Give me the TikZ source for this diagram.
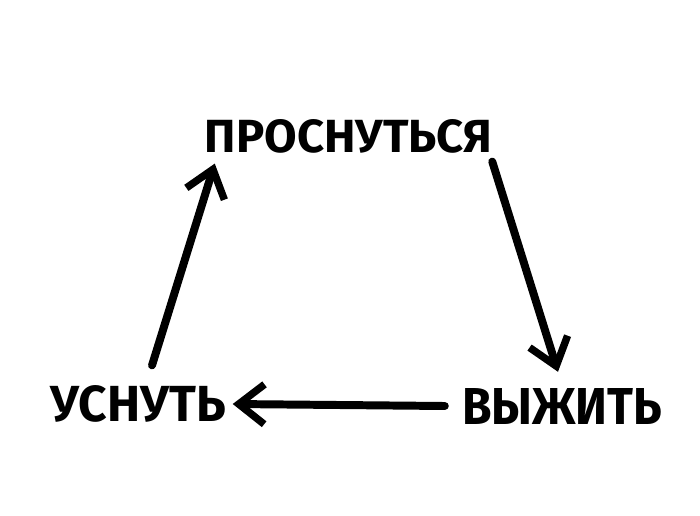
\documentclass[tikz,border=0pt]{standalone}
\usepackage{fontspec}
\setmainfont{Fira Sans}
\usetikzlibrary{arrows.meta}
\tikzset{
	word/.style={inner sep=0pt, font=\bfseries},
	arr/.style={line width=2.8mm, line cap=round, line join=round, -{Straight Barb[length=9mm, width=14mm, line width=2.6mm]}}
}

\begin{document}
\begin{tikzpicture}[x=1pt, y=1pt]
		%%%%% START %%%%%
		
		\useasboundingbox[fill=white] (0, 0) rectangle (700, 515);
		
		\node[word] (wake) at (348.5, 378.5) {\resizebox{287pt}{33pt}{ПРОСНУТЬСЯ}};
		\node[word] (survive) at (562, 109) {\resizebox{200pt}{36pt}{ВЫЖИТЬ}};
		\node[word] (sleep) at (138, 111) {\resizebox{175pt}{36pt}{УСНУТЬ}};
		
		\draw[arr] ([yshift=-8pt]wake.south east) -- ([xshift=-4pt, yshift=16pt]survive.north);
		\draw[arr] ([xshift=-17pt]survive.west) -- ([xshift=7pt]sleep.east);
		\draw[arr] ([xshift=14pt, yshift=20pt]sleep.north) -- ([xshift=10pt, yshift=-10pt]wake.south west);
		
		%%%%% END %%%%%
	\end{tikzpicture}
\end{document}
